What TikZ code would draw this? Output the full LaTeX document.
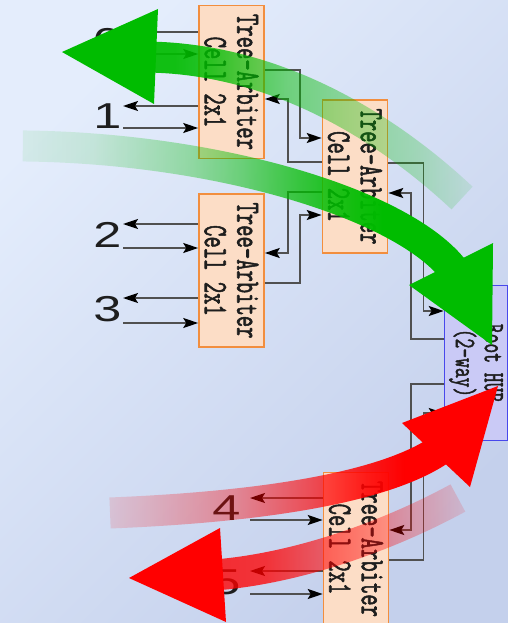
\documentclass[tikz,border=0pt]{standalone}
\usepackage{fontspec}
\usepackage{graphicx}
\usetikzlibrary{arrows.meta, positioning, fadings}

\newfontfamily\portfont{Liberation Sans}
\newfontfamily\cellmono{Latin Modern Mono}[FakeBold=2]

\definecolor{bglight}{RGB}{228,237,252}
\definecolor{bgdark}{RGB}{196,208,236}
\definecolor{cellfill}{RGB}{252,221,198}
\definecolor{celledge}{RGB}{242,142,62}
\definecolor{hubfill}{RGB}{202,202,246}
\definecolor{hubedge}{RGB}{72,72,236}
\definecolor{wiregray}{RGB}{80,80,80}
\definecolor{inkgray}{RGB}{30,30,30}
\definecolor{sweepgreen}{RGB}{0,188,0}
\definecolor{sweepred}{RGB}{255,0,0}

% glyphs are stretched across the lines, as in the slide
\newcommand{\tallbox}[1]{\scalebox{1}[1.55]{#1}}
\newcommand{\widebox}[1]{\scalebox{1.4}[1]{#1}}
\newcommand{\celltext}[3][8pt]{\rotatebox{-90}{\shortstack{\tallbox{#2}\\[#1]\tallbox{#3}}}}

% opacity ramps of the swept arrows (path box maps to 25bp..75bp)
\pgfdeclarehorizontalshading{rampupleft}{100bp}{color(0bp)=(transparent!8); color(25bp)=(transparent!8);
  color(32bp)=(transparent!8); color(37bp)=(transparent!18); color(42bp)=(transparent!35);
  color(47bp)=(transparent!50); color(55bp)=(transparent!63); color(65bp)=(transparent!76);
  color(72bp)=(transparent!90); color(75bp)=(transparent!96); color(100bp)=(transparent!96)}
\pgfdeclarehorizontalshading{rampdownright}{100bp}{color(0bp)=(transparent!95); color(25bp)=(transparent!95);
  color(35bp)=(transparent!87); color(45bp)=(transparent!66); color(50bp)=(transparent!50);
  color(55bp)=(transparent!30); color(60bp)=(transparent!12); color(65bp)=(transparent!0);
  color(100bp)=(transparent!0)}
\pgfdeclarehorizontalshading{rampupright}{100bp}{color(0bp)=(transparent!93); color(25bp)=(transparent!93);
  color(35bp)=(transparent!78); color(45bp)=(transparent!62); color(55bp)=(transparent!35);
  color(62bp)=(transparent!12); color(67bp)=(transparent!0); color(100bp)=(transparent!0)}
\pgfdeclarehorizontalshading{rampdownleft}{100bp}{color(0bp)=(transparent!20); color(25bp)=(transparent!20);
  color(38bp)=(transparent!24); color(45bp)=(transparent!38); color(52bp)=(transparent!52);
  color(60bp)=(transparent!68); color(68bp)=(transparent!82); color(75bp)=(transparent!94);
  color(100bp)=(transparent!94)}

\tikzfading[name=fade up left, shading=rampupleft]
\tikzfading[name=fade down right, shading=rampdownright]
\tikzfading[name=fade up right, shading=rampupright]
\tikzfading[name=fade down left, shading=rampdownleft]

\tikzset{
  cell/.style={draw=celledge, fill=cellfill, line width=1.6pt, minimum width=65pt, minimum height=153pt, inner sep=0pt, text=inkgray, font=\cellmono\fontsize{22}{26}\selectfont},
  hub/.style={cell, draw=hubedge, fill=hubfill, minimum width=63pt, minimum height=155pt, font=\cellmono\fontsize{19}{23}\selectfont},
  wire/.style={draw=wiregray, line width=1.6pt, -{Stealth[length=15pt, width=10pt, inset=3pt, color=black]}},
  portno/.style={inner sep=0pt, text=inkgray, font=\portfont\fontsize{36}{36}\selectfont},
  greensweep/.style={draw=sweepgreen, line width=31pt},
  redsweep/.style={draw=sweepred, line width=31pt}
}

\begin{document}
\begin{tikzpicture}[x=1pt, y=-1pt]
    % backdrop
    \shade[shading=axis, top color=bglight, bottom color=bgdark, shading angle=45] (0,0) rectangle (508,623);
    \useasboundingbox (0,0) rectangle (508,623);

    % arbiter cells and the hub
    \node[cell] (a) at (231.5,82) {\celltext{Tree-Arbiter}{Cell 2x1}};
    \node[cell] (b) at (355,176.5) {\celltext{Tree-Arbiter}{Cell 2x1}};
    \node[cell] (c) at (231.5,270.5) {\celltext{Tree-Arbiter}{Cell 2x1}};
    \node[cell] (d) at (356,549) {\celltext{Tree-Arbiter}{Cell 2x1}};
    \node[hub] (hub) at (476,363) {\celltext[5pt]{Root HUB}{(2-way)}};

    % client port ends
    \coordinate (g0) at (123,32);  \coordinate (r0) at (123,54);
    \coordinate (g1) at (123,106); \coordinate (r1) at (123,128);
    \coordinate (g2) at (123,224); \coordinate (r2) at (123,248);
    \coordinate (g3) at (123,298); \coordinate (r3) at (123,323);
    \coordinate (g4) at (250,498); \coordinate (r4) at (250,520);
    \coordinate (g5) at (250,571); \coordinate (r5) at (250,594);

    \draw[wire] (a.west |- g0) -- (g0);
    \draw[wire] (r0) -- (a.west |- r0);
    \draw[wire] (a.west |- g1) -- (g1);
    \draw[wire] (r1) -- (a.west |- r1);
    \draw[wire] (c.west |- g2) -- (g2);
    \draw[wire] (r2) -- (c.west |- r2);
    \draw[wire] (c.west |- g3) -- (g3);
    \draw[wire] (r3) -- (c.west |- r3);
    \draw[wire] (d.west |- g4) -- (g4);
    \draw[wire] (r4) -- (d.west |- r4);
    \draw[wire] (d.west |- g5) -- (g5);
    \draw[wire] (r5) -- (d.west |- r5);

    \node[portno] (n0) at (107.5,41.5) {\widebox{0}};
    \node[portno] (n1) at (107.5,116) {\widebox{1}};
    \node[portno] (n2) at (107.5,235) {\widebox{2}};
    \node[portno] (n3) at (107.5,309) {\widebox{3}};
    \node[portno] (n4) at (226.5,508) {\widebox{4}};
    \node[portno] (n5) at (226.5,582) {\widebox{5}};

    % cell to cell links
    \draw[wire] (a.east |- 0,70) -- ++(35,0) |- (b.west |- 0,138);
    \draw[wire] (b.west |- 0,162) -- ++(-34,0) |- (a.east |- 0,99);
    \draw[wire] (b.west |- 0,192) -- ++(-34,0) |- (c.east |- 0,253);
    \draw[wire] (c.east |- 0,283) -- ++(35,0) |- (b.west |- 0,215);
    \draw[wire] (b.east |- 0,163) -- ++(35,0) |- (hub.west |- 0,311);
    \draw[wire] (hub.west |- 0,339) -- ++(-33,0) |- (b.east |- 0,193);
    \draw[wire] (hub.west |- 0,384) -- ++(-33,0) |- (d.east |- 0,530);
    \draw[wire] (d.east |- 0,560) -- ++(34,0) |- (hub.west |- 0,413);

    % swept arrows (the two lone points only widen the fading box)
    \draw[greensweep, path fading=fade up left] (140,30) (476,225)
        (462,198) .. controls (400,140) and (290,60) .. (150,57);
    \fill[sweepgreen] (62,52) -- (158,9) -- (154,104) -- cycle;
    \draw[greensweep, path fading=fade down right] (12,120) (465,290)
        (23,146) .. controls (220,148) and (405,205) .. (455,271);
    \fill[sweepgreen] (492,345) -- (409,285) -- (493,243) -- cycle;
    \draw[redsweep, path fading=fade up right] (100,425) (450,535)
        (110,513) .. controls (260,507) and (385,488) .. (441,449);
    \fill[sweepred] (498,386) -- (402,423) -- (470,487) -- cycle;
    \draw[redsweep, path fading=fade down left] (205,475) (470,600)
        (458,498) .. controls (390,535) and (300,568) .. (215,575);
    \fill[sweepred] (129,578) -- (220,528) -- (226,622) -- cycle;
\end{tikzpicture}
\end{document}
